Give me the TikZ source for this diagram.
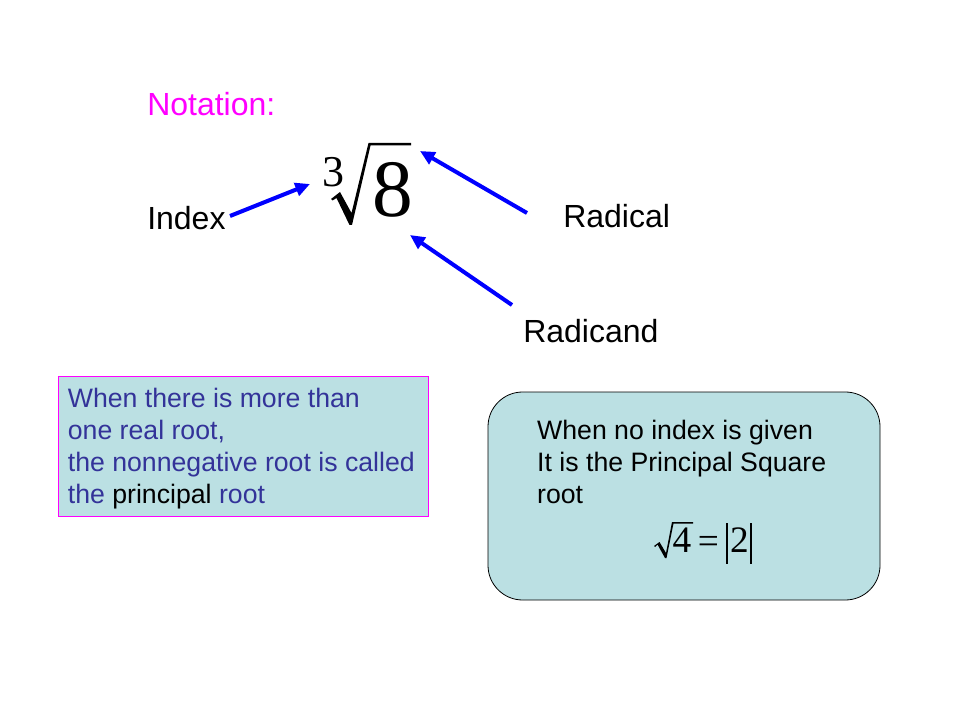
\documentclass[tikz,border=0pt]{standalone}
\usepackage{fontspec}
\setmainfont{Liberation Sans}
\newfontfamily\mathserif{Liberation Serif}
\usetikzlibrary{arrows.meta,positioning}
\definecolor{boxcyan}{RGB}{187,224,227}
\definecolor{textblue}{RGB}{51,51,153}
\definecolor{notepink}{RGB}{255,0,255}
\tikzset{
      label text/.style = {font=\fontsize{24}{28}\selectfont, anchor=base west, inner sep=0pt},
      pointer/.style   = {blue, line width=3pt, -{Triangle[length=11pt,width=10pt]}},
      notebox/.style = {draw=notepink, fill=boxcyan, line width=0.6pt, minimum width=277.5pt, minimum height=105pt},
      principalbox/.style = {draw=black, fill=boxcyan, line width=0.6pt, rounded corners=26pt, minimum width=294pt, minimum height=156pt},
      box text/.style = {font=\fontsize{20}{24}\selectfont, align=left, inner sep=0pt, anchor=north west},
      big digit/.style = {font=\mathserif\fontsize{61}{61}\selectfont, inner sep=0pt},
      small digit/.style = {font=\mathserif\fontsize{28}{28}\selectfont, inner sep=0pt},
    }

\begin{document}
\begin{tikzpicture}[x=0.75pt,y=-0.75pt]
        \useasboundingbox (0,0) rectangle (960,720);
        \node [label text, notepink] (notation) at (147,116) {Notation:};
        \node [label text] (index)    at (147,230) {Index};
        \node [label text] (radical)  at (563,228) {Radical};
        \node [label text] (radicand) at (523,342) {Radicand};
        % cube root of 8
        \fill (331,199) -- (340,192) -- (351.5,213) -- (368.5,143) -- (411,143) -- (411,145.5)
            -- (370.5,145.5) -- (352,225) -- (349.5,225) -- (336.5,198) -- (332.5,200.5) -- cycle;
        \node [big digit] (eight) at (393,190) {8};
        \node [small digit, font=\mathserif\fontsize{33}{33}\selectfont] (three) at (333.5,172) {3};
        \coordinate (idxtail) at (230,216);
        \coordinate (idxtip)  at (310,184);
        \coordinate (radtail) at (527,213);
        \coordinate (radtip)  at (420,151);
        \coordinate (candtail) at (512,305);
        \coordinate (candtip)  at (410,235);
        \draw [pointer] (idxtail) -- (idxtip);
        \draw [pointer] (radtail) -- (radtip);
        \draw [pointer] (candtail) -- (candtip);
        % boxes
        \node [notebox] (rootbox) at (243,446) {};
        \node [box text, textblue, below right=9pt and 7.5pt of rootbox.north west] (roottext)
            {When there is more than\\one real root,\\the nonnegative root is called\\the \textcolor{black}{principal} root};
        \node [principalbox] (sqbox) at (684,496) {};
        \node [box text, below right=21pt and 37pt of sqbox.north west] (sqtext)
            {When no index is given\\It is the Principal Square\\root};
        % square root of 4
        \fill (654,546) -- (659.5,542) -- (666,553) -- (672,522) -- (693,522) -- (693,523.5)
            -- (673.5,523.5) -- (666.5,558) -- (665,558) -- (657.5,544.5) -- (655,547) -- cycle;
        \node [small digit] (four) at (682,540) {4};
        \node [small digit] (equals) at (708.5,545) {=};
        \node [small digit] (two) at (739.5,540) {2};
        \draw [line width=0.8pt] (727,523) -- (727,564) (751,523) -- (751,564);
    \end{tikzpicture}
\end{document}
